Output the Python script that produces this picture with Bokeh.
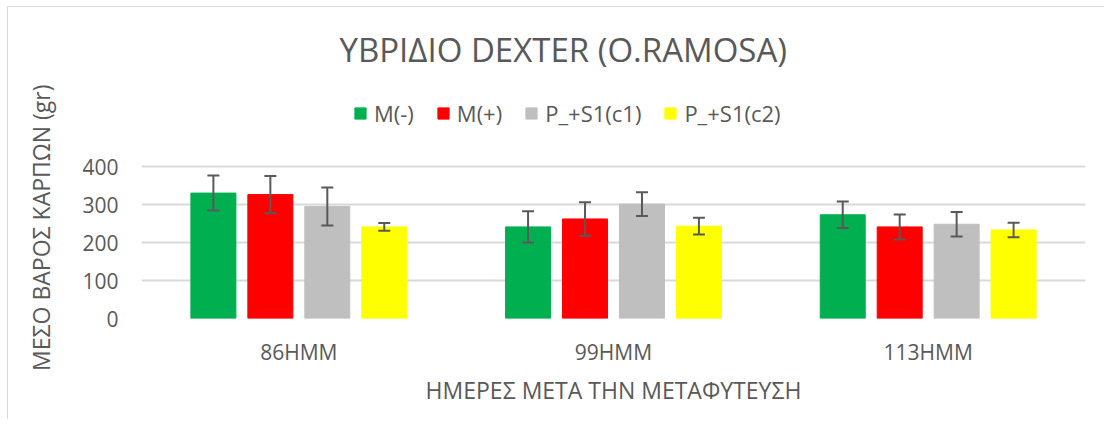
from bokeh.plotting import figure
from bokeh.models import (ColumnDataSource, FactorRange, Whisker, TeeHead, Legend,
                          LegendItem, FixedTicker, Title)
from bokeh.transform import dodge
from bokeh.embed import file_html
from bokeh.resources import INLINE

# ---- data ----
days = ["86ΗΜΜ", "99ΗΜΜ", "113ΗΜΜ"]
series = ["M(-)", "M(+)", "P_+S1(c1)", "P_+S1(c2)"]
m_minus = [330, 241, 273]
m_plus = [326, 262, 241]
p_c1 = [295, 301, 248]
p_c2 = [241, 243, 233]
err_m_minus = [46, 41, 35]
err_m_plus = [49, 44, 33]
err_p_c1 = [50, 31, 32]
err_p_c2 = [10, 22, 19]
colors = ["#00b050", "#ff0000", "#bfbfbf", "#ffff00"]
y_ticks = [0, 100, 200, 300, 400]

values = [m_minus, m_plus, p_c1, p_c2]
errors = [err_m_minus, err_m_plus, err_p_c1, err_p_c2]
offsets = [-0.2715, -0.0905, 0.0905, 0.2715]

FONT = "Open Sans"
TXT = "#595959"

W, H = 1104, 419
TOP, BOTTOM = 95, 101
# plot area extends above the 400 gridline so that the legend can sit in it
y_max = 400 * (H - TOP - BOTTOM) / 152

p = figure(width=W, height=H, x_range=FactorRange(*days, range_padding=0),
           y_range=(0, y_max), output_backend="svg", toolbar_location=None,
           min_border_left=140, min_border_right=19, min_border_top=TOP,
           min_border_bottom=BOTTOM)
p.border_fill_alpha = 0
p.background_fill_color = "white"
p.styles = {"box-shadow": "inset 7px 6px 0 0 white, inset 8px 7px 0 0 #d9d9d9"}
p.outline_line_color = None
p.xgrid.grid_line_color = None
p.ygrid.grid_line_color = "#d9d9d9"
p.ygrid.grid_line_width = 2
p.ygrid.ticker = FixedTicker(ticks=y_ticks)

p.title.text = "ΥΒΡΙΔΙΟ DEXTER (O.RAMOSA)"
p.title.align = "left"
p.title.offset = 198
p.title.text_font = FONT
p.title.text_font_size = "33px"
p.title.text_font_style = "normal"
p.title.text_color = TXT
p.title.standoff = 48

legend_items = []
for name, vals, errs, col, off in zip(series, values, errors, colors, offsets):
    src = ColumnDataSource(dict(day=days, val=vals,
                                upper=[v + e for v, e in zip(vals, errs)],
                                lower=[v - e for v, e in zip(vals, errs)]))
    r = p.vbar(x=dodge("day", off, range=p.x_range), top="val", width=0.143,
               source=src, fill_color=col, line_color=col)
    w = Whisker(source=src, base=dodge("day", off, range=p.x_range),
                upper="upper", lower="lower", line_color="#595959", line_width=2,
                level="annotation",
                upper_head=TeeHead(size=12, line_color="#595959", line_width=2),
                lower_head=TeeHead(size=12, line_color="#595959", line_width=2))
    p.add_layout(w)
    legend_items.append(LegendItem(label=name, renderers=[r]))

legend = Legend(items=legend_items, orientation="horizontal", location=(212, 190),
                label_text_font=FONT, label_text_font_size="22px",
                label_text_color=TXT, glyph_width=14, glyph_height=14,
                label_standoff=7, spacing=22, padding=0, margin=0,
                border_line_color=None, background_fill_alpha=0)
p.add_layout(legend)

p.yaxis.ticker = FixedTicker(ticks=y_ticks)
p.yaxis.axis_line_color = None
p.yaxis.major_tick_line_color = None
p.yaxis.minor_tick_line_color = None
p.yaxis.major_label_text_font = FONT
p.yaxis.major_label_text_font_size = "21px"
p.yaxis.major_label_text_color = TXT
p.yaxis.major_label_standoff = 17

ytitle = Title(text="ΜΕΣΟ ΒΑΡΟΣ ΚΑΡΠΩΝ (gr)", align="right", offset=-11,
               text_font=FONT, text_font_size="23px", text_font_style="normal",
               text_color=TXT, standoff=45)
p.add_layout(ytitle, "left")

p.xaxis.axis_line_color = None
p.xaxis.major_tick_line_color = None
p.xaxis.minor_tick_line_color = None
p.xaxis.major_label_text_font = FONT
p.xaxis.major_label_text_font_size = "21px"
p.xaxis.major_label_text_color = TXT
p.xaxis.major_label_standoff = 13
p.xaxis.axis_label = "ΗΜΕΡΕΣ ΜΕΤΑ ΤΗΝ ΜΕΤΑΦΥΤΕΥΣΗ"
p.xaxis.axis_label_text_font = FONT
p.xaxis.axis_label_text_font_size = "23px"
p.xaxis.axis_label_text_font_style = "normal"
p.xaxis.axis_label_text_color = TXT
p.xaxis.axis_label_standoff = 5

open("out.html", "w").write(file_html(p, INLINE))
